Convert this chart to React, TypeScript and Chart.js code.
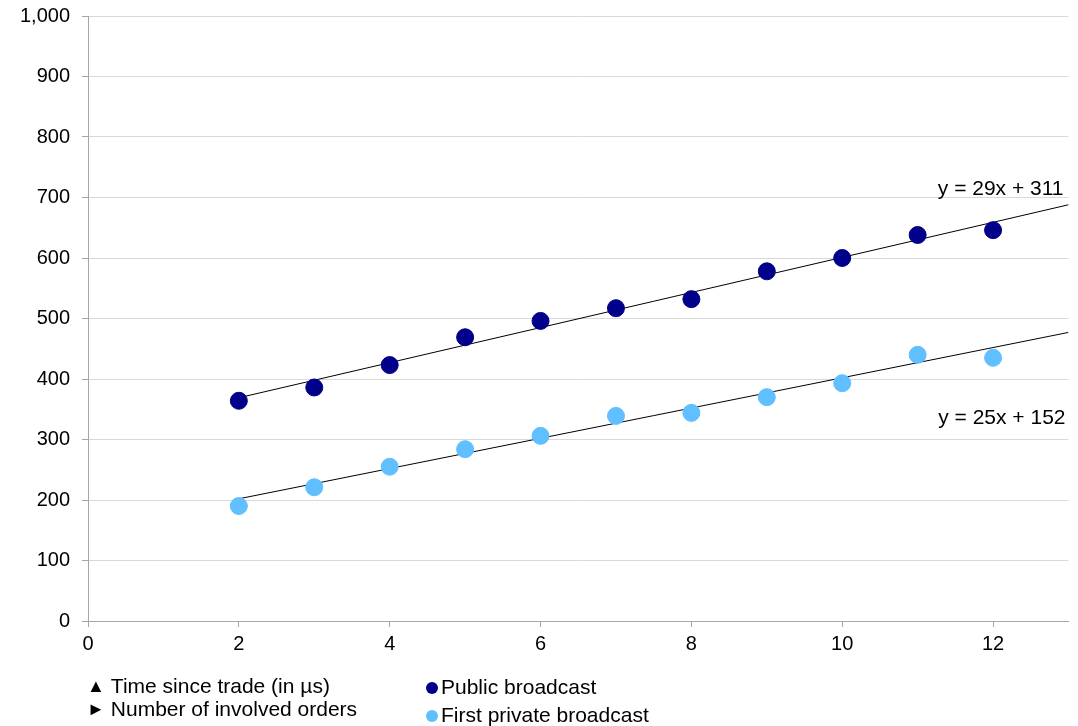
import React, { useEffect, useRef } from "react";
import { Chart, registerables } from "chart.js";

Chart.register(...registerables);

const xValues = [2, 3, 4, 5, 6, 7, 8, 9, 10, 11, 12];
const publicBroadcast = [364, 386, 423, 469, 496, 517, 532, 578, 600, 638, 646];
const firstPrivateBroadcast = [190, 221, 255, 284, 306, 339, 344, 370, 393, 440, 435];

const publicTrend = { slope: 29, intercept: 311, label: "y = 29x + 311" };
const privateTrend = { slope: 25, intercept: 152, label: "y = 25x + 152" };
const trendRange = [2, 13];

const yTicks = [0, 100, 200, 300, 400, 500, 600, 700, 800, 900, 1000];
const xTicks = [0, 2, 4, 6, 8, 10, 12];

const FONT = "'Liberation Sans', Arial, sans-serif";
const NAVY = "#00008B";
const LIGHT = "#5FBFFF";

const trendPoints = (t: { slope: number; intercept: number }) =>
  trendRange.map((x) => ({ x, y: t.slope * x + t.intercept }));

const labelPlugin = {
  id: "trendLabels",
  afterDatasetsDraw(chart: any) {
    const { ctx, chartArea, scales } = chart;
    ctx.save();
    ctx.font = `21px ${FONT}`;
    ctx.fillStyle = "#000";
    ctx.textAlign = "right";
    ctx.textBaseline = "middle";
    ctx.fillText(publicTrend.label, chartArea.right - 5, scales.y.getPixelForValue(714));
    ctx.fillText(privateTrend.label, chartArea.right - 3, scales.y.getPixelForValue(336));
    ctx.restore();
  },
};

export default function App() {
  const ref = useRef<HTMLCanvasElement>(null);
  useEffect(() => {
    if (!ref.current) return;
    const chart = new Chart(ref.current, {
      type: "scatter",
      data: {
        datasets: [
          {
            label: "Public broadcast",
            data: xValues.map((x, i) => ({ x, y: publicBroadcast[i] })),
            backgroundColor: NAVY,
            borderColor: NAVY,
            pointRadius: 8.5,
            pointHoverRadius: 8.5,
          },
          {
            label: "First private broadcast",
            data: xValues.map((x, i) => ({ x, y: firstPrivateBroadcast[i] })),
            backgroundColor: LIGHT,
            borderColor: LIGHT,
            pointRadius: 8.5,
            pointHoverRadius: 8.5,
          },
          {
            type: "line",
            label: "trend public",
            data: trendPoints(publicTrend),
            borderColor: "#000",
            borderWidth: 1,
            pointRadius: 0,
            fill: false,
          } as any,
          {
            type: "line",
            label: "trend private",
            data: trendPoints(privateTrend),
            borderColor: "#000",
            borderWidth: 1,
            pointRadius: 0,
            fill: false,
          } as any,
        ],
      },
      options: {
        responsive: false,
        animation: false,
        layout: { padding: { top: 16, right: 9, bottom: 70, left: 0 } },
        plugins: {
          legend: { display: false },
          tooltip: { enabled: false },
        },
        scales: {
          x: {
            type: "linear",
            min: 0,
            max: 13,
            afterBuildTicks: (scale: any) => {
              scale.ticks = xTicks.map((v) => ({ value: v }));
            },
            afterFit: (scale: any) => {
              scale.height = 35;
              scale.paddingLeft = 0;
              scale.paddingRight = 0;
            },
            grid: {
              drawOnChartArea: false,
              drawTicks: true,
              tickLength: 6,
              color: "#A6A6A6",
            },
            border: { color: "#A6A6A6", width: 1 },
            ticks: {
              font: { family: FONT, size: 20 },
              color: "#000",
              padding: 5,
              maxRotation: 0,
            },
          },
          y: {
            min: 0,
            max: 1000,
            afterBuildTicks: (scale: any) => {
              scale.ticks = yTicks.map((v) => ({ value: v }));
            },
            afterFit: (scale: any) => {
              scale.width = 88;
              scale.paddingTop = 0;
              scale.paddingBottom = 0;
            },
            grid: {
              color: "#D9D9D9",
              drawTicks: true,
              tickLength: 6,
              tickColor: "#A6A6A6",
            },
            border: { color: "#A6A6A6", width: 1 },
            ticks: {
              font: { family: FONT, size: 20 },
              color: "#000",
              padding: 12,
              callback: (v: any) => Number(v).toLocaleString("en-US"),
            },
          },
        },
      },
      plugins: [labelPlugin],
    } as any);
    return () => chart.destroy();
  }, []);

  const textStyle: React.CSSProperties = {
    position: "absolute",
    fontFamily: FONT,
    fontSize: 21,
    color: "#000",
    whiteSpace: "nowrap",
    lineHeight: "22px",
  };

  return (
    <div style={{ position: "fixed", left: 0, top: 0, width: 1078, height: 726, background: "#fff", overflow: "hidden" }}>
      <canvas ref={ref} width={1078} height={726} style={{ position: "absolute", left: 0, top: 0 }} />
      <div style={{ ...textStyle, left: 87, top: 675 }}>
        <span style={{ fontSize: 18, marginRight: 6, verticalAlign: 1 }}>▲</span>Time since trade (in µs)
      </div>
      <div style={{ ...textStyle, left: 87, top: 698 }}>
        <span style={{ fontSize: 18, marginRight: 6, verticalAlign: 1 }}>►</span>Number of involved orders
      </div>
      <div style={{ ...textStyle, left: 426, top: 676 }}>
        <span style={{ display: "inline-block", width: 12, height: 12, borderRadius: 6, background: NAVY, marginRight: 3, verticalAlign: 0 }} />Public broadcast
      </div>
      <div style={{ ...textStyle, left: 426, top: 704 }}>
        <span style={{ display: "inline-block", width: 12, height: 12, borderRadius: 6, background: LIGHT, marginRight: 3, verticalAlign: 0 }} />First private broadcast
      </div>
    </div>
  );
}
